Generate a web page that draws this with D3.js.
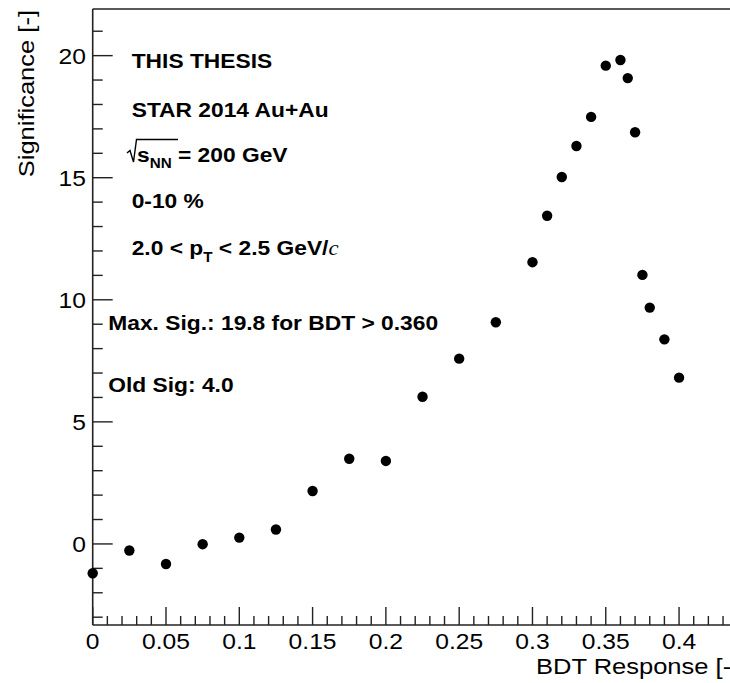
<!DOCTYPE html>
<html>
<head>
<meta charset="utf-8">
<script src="https://cdn.jsdelivr.net/npm/d3@7"></script>
<style>
html,body{margin:0;padding:0;background:#fff;overflow:hidden;}
svg{display:block;}
text{font-family:"Liberation Sans",Arial,Helvetica,sans-serif;fill:#000;}
</style>
</head>
<body>
<svg id="c" width="730" height="683"></svg>
<script>
// ---- data ----
const bdtCuts = [0,0.025,0.05,0.075,0.1,0.125,0.15,0.175,0.2,0.225,0.25,0.275,0.3,0.31,0.32,0.33,0.34,0.35,0.36,0.365,0.37,0.375,0.38,0.39,0.4];
const significance = [-1.2,-0.27,-0.82,-0.01,0.26,0.59,2.17,3.49,3.40,6.03,7.59,9.08,11.54,13.44,15.03,16.30,17.49,19.59,19.82,19.08,16.86,11.02,9.68,8.38,6.81];
const xTickLabels = ["0","0.05","0.1","0.15","0.2","0.25","0.3","0.35","0.4"];
const yTickLabels = ["0","5","10","15","20"];
const infoLines = ["THIS THESIS","STAR 2014 Au+Au","","0-10 %",""];
const maxSigText = "Max. Sig.: 19.8 for BDT > 0.360";
const oldSigText = "Old Sig: 4.0";
const xTitle = "BDT Response [-]";
const yTitle = "Significance [-]";

// ---- layout ----
const svg = d3.select("#c");
const L = 92.7, R = 737.7, T = 9, B = 625;
const x = d3.scaleLinear().domain([0, 0.44]).range([L, R]);
const y = d3.scaleLinear().domain([-3.32, 21.91]).range([B, T]);
const SX = 1.12, SXB = 1.085, SXT = 1.16;

// frame
const frame = svg.append("g").attr("stroke","#222").attr("stroke-width",1.6).attr("fill","none");
frame.append("line").attr("x1",L).attr("x2",L).attr("y1",T).attr("y2",B);
frame.append("line").attr("x1",L).attr("x2",745).attr("y1",B).attr("y2",B);
frame.append("line").attr("x1",L).attr("x2",745).attr("y1",T).attr("y2",T);

// x ticks
const xMinor = d3.range(0, 0.4401, 0.01).map(v => +v.toFixed(3));
const tg = svg.append("g").attr("stroke","#222").attr("stroke-width",1.4);
xMinor.forEach(v => {
  const major = Math.abs(v/0.05 - Math.round(v/0.05)) < 1e-6;
  tg.append("line").attr("x1",x(v)).attr("x2",x(v)).attr("y1",B).attr("y2",B-(major?18:9));
});
// y ticks
d3.range(-3, 22, 1).forEach(v => {
  const major = v % 5 === 0;
  tg.append("line").attr("x1",L).attr("x2",L+(major?20:10)).attr("y1",y(v)).attr("y2",y(v));
});

// x tick labels
svg.append("g").selectAll("text").data(xTickLabels).join("text")
  .attr("transform", d => `translate(${x(+d)},649) scale(${SX},1)`)
  .attr("text-anchor","middle").attr("font-size",22).attr("fill","#111").text(d => d);
// y tick labels
svg.append("g").selectAll("text").data(yTickLabels).join("text")
  .attr("transform", d => `translate(86,${y(+d)+8}) scale(${SX},1)`)
  .attr("text-anchor","end").attr("font-size",22).attr("fill","#111").text(d => d);

// axis titles
svg.append("text").attr("transform",`translate(536,674) scale(${SXT},1)`)
  .attr("font-size",22).attr("fill","#111").text(xTitle);
svg.append("text").attr("transform",`translate(34,10) rotate(-90) scale(${SXT},1)`)
  .attr("text-anchor","end").attr("font-size",22).attr("fill","#111").text(yTitle);

// points
svg.append("g").selectAll("circle").data(bdtCuts).join("circle")
  .attr("cx", d => x(d)).attr("cy", (d,i) => y(significance[i])).attr("r",5.2).attr("fill","#000");

// info text
const info = svg.append("g").attr("font-weight","bold").attr("font-size",21);
const baselines = [68.3,116.7,161.7,208.3,255];
infoLines.forEach((t,i) => {
  if (t) info.append("text").attr("transform",`translate(131.7,${baselines[i]}) scale(${SXB},1)`).text(t);
});
// sqrt(s_NN) = 200 GeV
info.append("path").attr("d","M127,153 L130,150.5 L133.5,162 L136.5,139.5 L178,139.5")
  .attr("fill","none").attr("stroke","#000").attr("stroke-width",1.4);
const sq = info.append("text").attr("transform",`translate(137,161.7) scale(${SXB},1)`);
sq.append("tspan").text("s");
sq.append("tspan").attr("font-size",14).attr("dy",6).text("NN");
sq.append("tspan").attr("dy",-6).text(" = 200 GeV");
// pT line
const pt = info.append("text").attr("transform",`translate(131.7,255) scale(${SXB},1)`);
pt.append("tspan").text("2.0 < p");
pt.append("tspan").attr("font-size",14).attr("dy",7).text("T");
pt.append("tspan").attr("dy",-7).text(" < 2.5 GeV/");
pt.append("tspan").attr("font-style","italic").attr("font-weight","normal").attr("font-family","'Liberation Serif',serif").text("c");

info.append("text").attr("transform",`translate(108.3,330) scale(${SXB},1)`).text(maxSigText);
info.append("text").attr("transform",`translate(108.3,391.7) scale(${SXB},1)`).text(oldSigText);
</script>
</body>
</html>
